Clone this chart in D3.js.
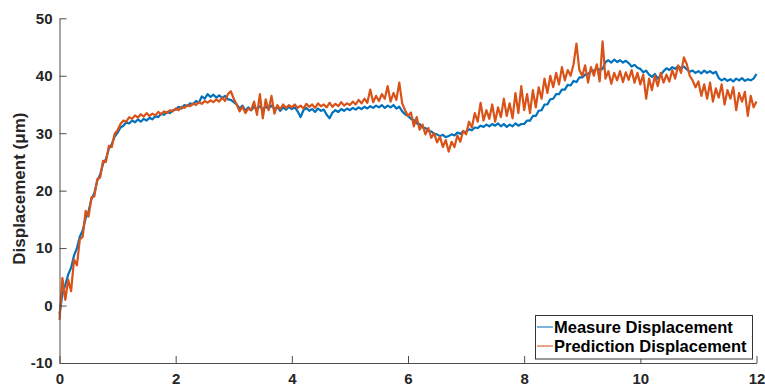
<!DOCTYPE html>
<html>
<head>
<meta charset="utf-8">
<script src="https://cdn.jsdelivr.net/npm/d3@7"></script>
<style>
  html, body { margin: 0; padding: 0; background: #fff; }
  svg { display: block; }
  text { font-family: "Liberation Sans", Arial, sans-serif; }
</style>
</head>
<body>
<svg id="chart" width="765" height="388"></svg>
<script>
// ---- data (sampled every 0.05 along the x axis) ----
const sampleStep = 0.05;
const measureDisplacement = [
  -1.5, 2.0, 3.6, 5.4, 6.6, 8.7, 10.0, 12.0, 13.1, 15.2, 16.4, 18.5, 19.6, 21.7, 22.8, 24.7, 25.5, 27.3, 28.1, 29.4,
  30.1, 31.0, 31.3, 31.9, 31.7, 32.2, 31.9, 32.4, 32.0, 32.5, 32.2, 32.7, 32.4, 33.0, 32.8, 33.4, 33.2, 33.7, 33.5, 34.0,
  34.1, 34.6, 34.3, 34.9, 34.7, 35.2, 35.0, 35.6, 35.3, 36.4, 36.0, 36.8, 36.3, 36.7, 36.2, 36.6, 36.1, 36.5, 35.9, 35.8,
  35.4, 35.0, 34.3, 34.8, 33.9, 34.5, 34.0, 34.6, 34.2, 34.7, 34.1, 34.6, 34.3, 34.8, 34.2, 34.6, 33.9, 34.5, 34.1, 34.6,
  34.2, 34.5, 33.8, 32.8, 34.0, 34.4, 33.9, 34.2, 33.7, 34.3, 33.9, 34.1, 33.2, 32.6, 33.6, 34.0, 33.7, 34.2, 33.9, 34.3,
  34.0, 34.4, 34.1, 34.5, 34.2, 34.6, 34.3, 34.7, 34.4, 34.8, 34.5, 34.9, 34.4, 34.8, 34.5, 34.9, 34.3, 34.6, 33.8, 33.3,
  33.0, 32.5, 32.3, 31.7, 31.6, 31.0, 30.9, 30.4, 30.3, 29.9, 29.8, 29.5, 29.7, 29.3, 29.5, 29.8, 29.6, 30.1, 29.9, 30.3,
  30.2, 30.7, 30.5, 31.0, 30.9, 31.3, 31.1, 31.5, 31.2, 31.6, 31.3, 31.7, 31.2, 31.6, 31.1, 31.5, 31.2, 31.7, 31.3, 31.6,
  31.6, 32.2, 32.2, 33.0, 33.0, 33.9, 34.0, 35.0, 35.0, 35.9, 36.0, 36.8, 36.8, 37.6, 37.6, 38.4, 38.3, 39.1, 38.9, 39.7,
  39.7, 40.2, 40.3, 40.8, 40.9, 41.3, 41.0, 41.2, 42.4, 42.7, 42.3, 42.8, 42.4, 42.7, 42.3, 42.6, 42.2, 41.6, 41.9, 41.4,
  41.2, 40.6, 40.9, 40.2, 39.8, 40.3, 39.5, 40.1, 40.8, 41.3, 41.0, 41.5, 41.2, 41.7, 41.3, 41.6, 41.1, 40.7, 40.9, 40.5,
  40.8, 40.4, 40.9, 40.5, 40.8, 40.4, 40.7, 39.6, 39.2, 39.5, 39.1, 39.4, 39.0, 39.5, 39.2, 39.6, 39.1, 39.4, 39.2, 39.5,
  40.3
];
const predictionDisplacement = [
  -2.5, 4.8, 1.0, 4.5, 2.5, 8.0, 7.0, 11.5, 12.0, 16.5, 15.5, 18.8, 19.0, 22.0, 22.3, 25.2, 25.0, 27.8, 27.6, 29.9,
  30.5, 31.6, 32.2, 32.0, 32.8, 32.5, 33.1, 32.7, 33.3, 32.9, 33.5, 33.0, 33.4, 33.1, 33.7, 33.3, 33.8, 33.5, 34.0, 33.8,
  34.3, 34.0, 34.6, 34.4, 34.9, 34.7, 35.2, 34.9, 35.4, 35.1, 35.6, 35.3, 35.7, 35.4, 35.9, 35.5, 36.2, 35.6, 36.8, 37.3,
  36.0, 35.0, 33.8, 34.6, 33.5, 34.3, 34.0, 35.5, 33.2, 36.8, 32.6, 35.9, 34.0, 36.5, 33.4, 34.9, 34.2, 35.0, 34.4, 34.9,
  34.5, 35.0, 34.4, 34.8, 34.3, 35.1, 34.6, 35.0, 34.4, 35.2, 34.7, 35.0, 34.5, 35.3, 34.6, 35.1, 34.7, 35.4, 34.8, 35.2,
  34.9, 35.5, 35.0, 35.8, 35.2, 36.0, 35.3, 37.6, 35.4, 36.5, 35.6, 36.8, 36.0, 38.2, 35.5, 37.0, 35.8, 38.8, 35.2, 34.0,
  33.0, 33.6, 31.2, 32.8, 30.6, 31.5, 29.8, 30.9, 29.2, 30.0, 28.4, 29.4, 27.6, 28.8, 26.8, 28.5, 27.6, 29.6, 28.5, 30.4,
  29.8, 32.0, 31.0, 33.5, 32.0, 35.3, 32.2, 34.0, 32.5, 35.0, 32.0, 34.5, 32.8, 36.0, 33.0, 35.2, 32.6, 37.0, 33.5, 38.2,
  34.0, 36.8, 33.5, 37.5, 34.5, 38.0, 36.0, 39.5, 37.0, 40.0, 38.0, 40.5, 38.5, 41.5, 39.2, 41.0, 40.0, 42.0, 45.6, 41.0,
  40.0, 41.8, 38.8, 41.5, 40.0, 42.0, 39.0, 46.0, 39.5, 40.8, 38.6, 40.5, 39.2, 40.8, 38.9, 40.6, 39.3, 41.0, 38.8, 40.5,
  38.5, 40.2, 36.0, 39.5, 37.5, 40.0, 38.2, 40.5, 38.8, 40.2, 39.0, 41.0, 39.5, 41.8, 40.5, 43.2, 42.0, 40.0, 39.2, 38.0,
  39.0, 36.5, 38.5, 36.0, 38.8, 35.5, 37.8, 36.2, 38.5, 35.0, 37.5, 36.0, 38.0, 34.0, 37.0, 35.5, 37.2, 33.0, 36.5, 34.5,
  35.5
];
const xTicks = [0, 2, 4, 6, 8, 10, 12];
const yTicks = [-10, 0, 10, 20, 30, 40, 50];
const seriesNames = ["Measure Displacement", "Prediction Displacement"];
const seriesColors = ["#0072BD", "#D95319"];
const yLabel = "Displacement (\u03bcm)";

// ---- chart ----
const svg = d3.select("#chart");
const x = d3.scaleLinear().domain([0, 12]).range([59.5, 756.5]);
const y = d3.scaleLinear().domain([-10, 50]).range([363, 18.3]);

const line = d3.line()
  .x((d, i) => x(i * sampleStep))
  .y(d => y(d));

const allSeries = [measureDisplacement, predictionDisplacement];
allSeries.forEach((s, k) => {
  svg.append("path")
    .datum(s)
    .attr("fill", "none")
    .attr("stroke", seriesColors[k])
    .attr("stroke-width", 2.2)
    .attr("stroke-linejoin", "round")
    .attr("d", line);
});

const axisColor = "#4d4d4d";
const textColor = "#262626";
const fmt = d => String(d);

const xAxis = svg.append("g")
  .attr("transform", `translate(0,${y(-10)})`)
  .call(d3.axisBottom(x).tickValues(xTicks).tickSizeInner(-7).tickSizeOuter(0).tickPadding(10.5).tickFormat(fmt));
const yAxis = svg.append("g")
  .attr("transform", `translate(${x(0)},0)`)
  .call(d3.axisLeft(y).tickValues(yTicks).tickSizeInner(-7).tickSizeOuter(0).tickPadding(7).tickFormat(fmt));

[xAxis, yAxis].forEach(g => {
  g.select(".domain").attr("stroke", axisColor).attr("stroke-width", 1);
  g.selectAll(".tick line").attr("stroke", axisColor);
  g.selectAll(".tick text")
    .attr("fill", textColor)
    .style("font-size", "15px")
    .style("font-weight", "bold")
    .style("font-family", "'Liberation Sans', Arial, sans-serif");
});

svg.append("text")
  .attr("transform", `translate(25,${(y(50) + y(-10)) / 2 - 2}) rotate(-90)`)
  .attr("text-anchor", "middle")
  .attr("fill", textColor)
  .style("font-size", "17px")
  .style("font-weight", "bold")
  .text(yLabel);

// ---- legend ----
const legend = svg.append("g");
legend.append("rect")
  .attr("x", 535.5).attr("y", 315.5)
  .attr("width", 217).attr("height", 43.5)
  .attr("fill", "#fff")
  .attr("stroke", "#333")
  .attr("stroke-width", 1);
seriesNames.forEach((name, k) => {
  const cy = 327 + k * 19;
  legend.append("line")
    .attr("x1", 537).attr("x2", 553)
    .attr("y1", cy).attr("y2", cy)
    .attr("stroke", seriesColors[k])
    .attr("stroke-opacity", 0.7)
    .attr("stroke-width", 1.5);
  legend.append("text")
    .attr("x", 554).attr("y", cy + 6)
    .attr("fill", "#000")
    .style("font-size", "16.5px")
    .style("font-weight", "bold")
    .text(name);
});
</script>
</body>
</html>
